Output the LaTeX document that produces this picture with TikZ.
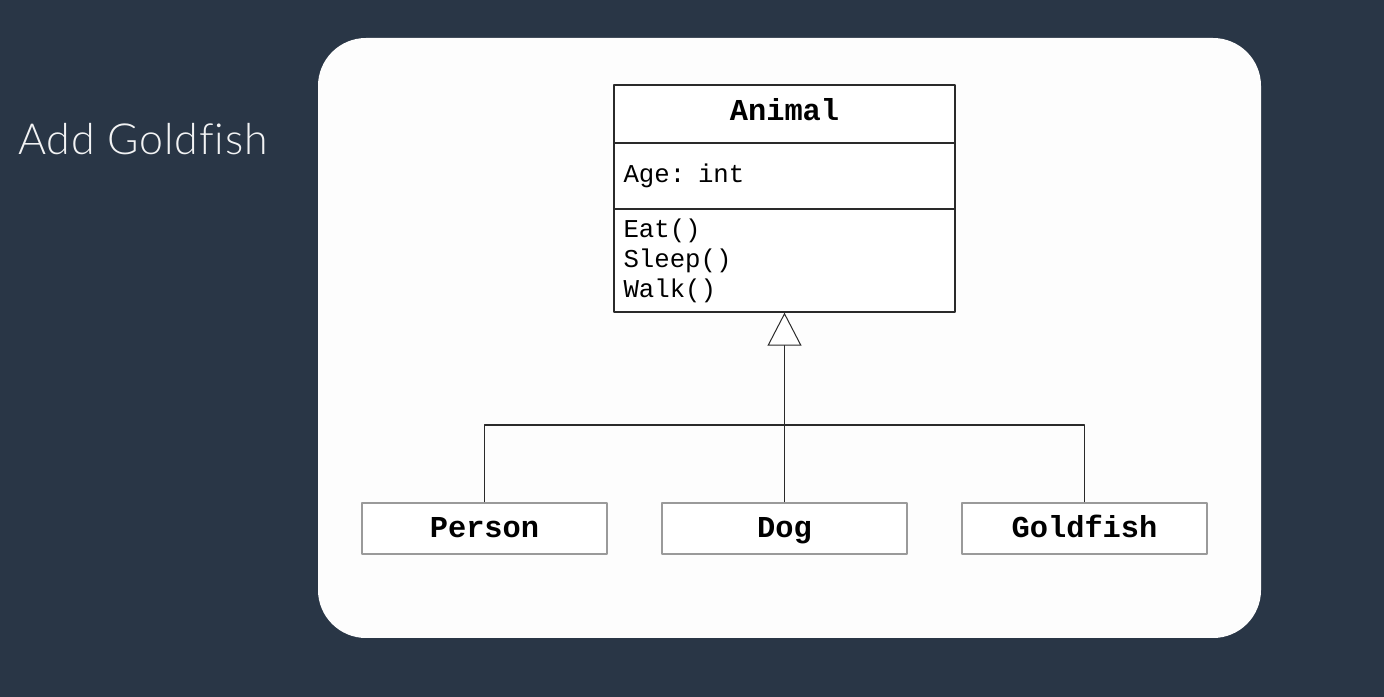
\documentclass[tikz,border=0pt]{standalone}
\usepackage{fontspec}
\setmonofont{Liberation Mono}
\newfontfamily\titlefont{Lato Light}[Ligatures=NoCommon,LetterSpace=2.2]
\usetikzlibrary{arrows.meta}
\definecolor{slate}{HTML}{293646}
\definecolor{cardwhite}{HTML}{FDFDFD}
\definecolor{umlline}{HTML}{2A2A2A}
\definecolor{umlgrey}{HTML}{9A9A9A}
\tikzset{
  classpart/.style={draw=umlline,line width=1.4bp,fill=white,minimum width=341bp,inner xsep=9.5bp,font=\fontsize{25.8}{30}\selectfont\ttfamily},
  subclass/.style={draw=umlgrey,line width=1.4bp,fill=white,minimum width=245bp,minimum height=51bp,text height=17.7bp,text depth=0bp,font=\fontsize{30.5}{34}\selectfont\ttfamily\bfseries},
}
\begin{document}
\begin{tikzpicture}[>=latex,line join=bevel,]
%%
\fill [slate] (0bp,0bp) rectangle (1384bp,697bp);
\fill [cardwhite,rounded corners=48bp] (318bp,59bp) rectangle (1261bp,659bp);
\node (title) at (18bp,542bp) [anchor=base west,inner sep=0pt,text=white!94!slate,font=\fontsize{43}{48}\selectfont\titlefont] {Add Goldfish};
%%
\node (animal) at (784.5bp,583bp) [classpart,minimum height=58bp,text height=17.7bp,text depth=5bp,font=\fontsize{30.5}{34}\selectfont\ttfamily\bfseries] {Animal};
  \node (animal_attr) at (784.5bp,521bp) [classpart,minimum height=66bp,text width=322bp,align=left] {Age: int};
  \node (animal_ops) at (784.5bp,436.5bp) [classpart,minimum height=103bp,text width=322bp,align=left] {Eat()\\Sleep()\\Walk()};
  \node (person) at (484.5bp,168.5bp) [subclass] {Person};
  \node (dog) at (784.5bp,168.5bp) [subclass] {Dog};
  \node (goldfish) at (1084.5bp,168.5bp) [subclass] {Goldfish};
  \coordinate (bus) at (784.5bp,272bp);
  \draw [umlline,line width=1.8bp,-{Triangle[open,fill=white,length=33bp,width=34bp,line width=1bp]}] (dog) -- (animal_ops);
  \draw [umlline,line width=1.8bp] (person.north) |- (bus);
  \draw [umlline,line width=1.8bp] (goldfish.north) |- (bus);
%
\end{tikzpicture}
\end{document}
